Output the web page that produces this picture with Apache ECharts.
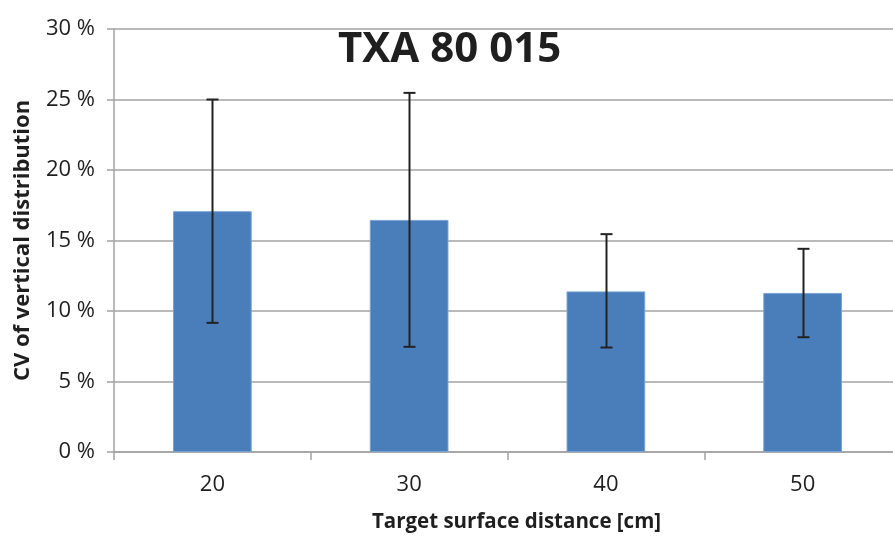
<!DOCTYPE html>
<html>
<head>
<meta charset="utf-8">
<script src="https://cdn.jsdelivr.net/npm/echarts@6/dist/echarts.min.js"></script>
<style>html,body{margin:0;padding:0;background:#fff;overflow:hidden}#c{width:901px;height:539px}</style>
</head>
<body>
<div id="c"></div>
<script>
var categories = ['20', '30', '40', '50'];
var cvValues = [17.08, 16.46, 11.39, 11.28];
var errLow = [9.16, 7.46, 7.41, 8.14];
var errHigh = [25.0, 25.47, 15.45, 14.41];
var yTicks = [0, 5, 10, 15, 20, 25, 30];

var font = '"Open Sans", sans-serif';
var chart = echarts.init(document.getElementById('c'), null, {renderer: 'canvas'});
var errData = categories.map(function (c, i) { return [i, errLow[i], errHigh[i]]; });

chart.setOption({
  animation: false,
  backgroundColor: '#ffffff',
  title: {
    text: 'TXA 80 015',
    left: 333,
    top: 24,
    textStyle: {fontFamily: font, fontSize: 42, fontWeight: 'bold', color: '#1f1f1f'}
  },
  grid: {left: 114, right: 0, top: 29, bottom: 87, containLabel: false},
  xAxis: {
    type: 'category',
    data: categories,
    boundaryGap: true,
    name: 'Target surface distance [cm]',
    nameLocation: 'middle',
    nameGap: 60,
    nameTextStyle: {fontFamily: font, fontSize: 20.5, fontWeight: 'bold', color: '#1f1f1f', padding: [0, 0, 0, 18]},
    axisLine: {show: true, lineStyle: {color: '#a3a3a3', width: 1.5}},
    axisTick: {show: true, alignWithLabel: false, length: 8, lineStyle: {color: '#a3a3a3', width: 1.5}},
    axisLabel: {fontFamily: font, fontSize: 22, color: '#1f1f1f', margin: 22}
  },
  yAxis: {
    type: 'value',
    min: yTicks[0],
    max: yTicks[yTicks.length - 1],
    interval: 5,
    name: 'CV of vertical distribution',
    nameLocation: 'middle',
    nameGap: 80,
    nameRotate: 90,
    nameTextStyle: {fontFamily: font, fontSize: 22, fontWeight: 'bold', color: '#1f1f1f'},
    axisLine: {show: true, lineStyle: {color: '#a3a3a3', width: 1.5}},
    axisTick: {show: true, length: 7, lineStyle: {color: '#a3a3a3', width: 1.5}},
    axisLabel: {fontFamily: font, fontSize: 22, color: '#1f1f1f', margin: 19, formatter: '{value} %'},
    splitLine: {show: true, lineStyle: {color: '#a3a3a3', width: 1.5}}
  },
  series: [
    {
      type: 'bar',
      data: cvValues,
      barWidth: '40%',
      itemStyle: {color: '#4a7ebb', borderColor: '#7aa3d4', borderWidth: 1}
    },
    {
      type: 'custom',
      data: errData,
      z: 10,
      renderItem: function (params, api) {
        var x = api.value(0);
        var lo = api.coord([x, api.value(1)]);
        var hi = api.coord([x, api.value(2)]);
        var cx = Math.round(lo[0]) + 0.5;
        var hw = 6;
        var st = {stroke: '#222222', lineWidth: 2};
        return {
          type: 'group',
          children: [
            {type: 'line', shape: {x1: cx, y1: lo[1], x2: cx, y2: hi[1]}, style: st},
            {type: 'line', shape: {x1: cx - hw, y1: lo[1], x2: cx + hw, y2: lo[1]}, style: st},
            {type: 'line', shape: {x1: cx - hw, y1: hi[1], x2: cx + hw, y2: hi[1]}, style: st}
          ]
        };
      }
    }
  ]
});
</script>
</body>
</html>
